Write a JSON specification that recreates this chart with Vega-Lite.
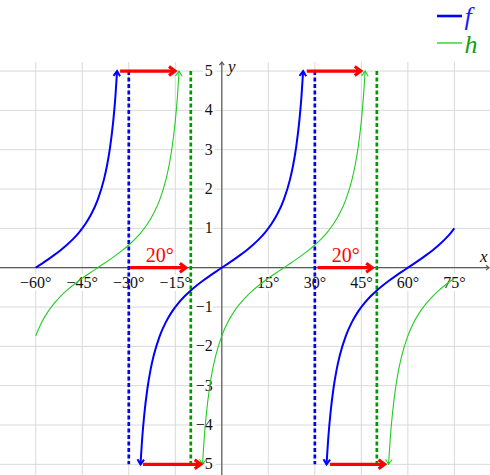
{
  "$schema": "https://vega.github.io/schema/vega-lite/v6.json",
  "width": 490,
  "height": 475,
  "padding": 0,
  "autosize": {"type": "none"},
  "background": "white",
  "config": {"view": {"stroke": null}, "font": "Liberation Serif"},
  "datasets": {
    "vgrid": [{"x": -60}, {"x": -45}, {"x": -30}, {"x": -15}, {"x": 0}, {"x": 15}, {"x": 30}, {"x": 45}, {"x": 60}, {"x": 75}],
    "hgrid": [{"y": -5}, {"y": -4}, {"y": -3}, {"y": -2}, {"y": -1}, {"y": 0}, {"y": 1}, {"y": 2}, {"y": 3}, {"y": 4}, {"y": 5}],
    "axes": [
      {"x": -71.53, "x2": 86.17, "y": 0, "y2": 0},
      {"x": 0, "x2": 0, "y": -5.271, "y2": 5.23}
    ],
    "axisheads": [
      {"x": 86.17, "y": 0, "dir": "right"},
      {"x": 0, "y": 5.23, "dir": "up"}
    ],
    "xticks": [
      {"x": -60, "t": "−60°"}, {"x": -45, "t": "−45°"}, {"x": -30, "t": "−30°"}, {"x": -15, "t": "−15°"},
      {"x": 15, "t": "15°"}, {"x": 30, "t": "30°"}, {"x": 45, "t": "45°"}, {"x": 60, "t": "60°"}, {"x": 75, "t": "75°"}
    ],
    "yticks": [
      {"y": -5, "t": "−5"}, {"y": -4, "t": "−4"}, {"y": -3, "t": "−3"}, {"y": -2, "t": "−2"}, {"y": -1, "t": "−1"},
      {"y": 1, "t": "1"}, {"y": 2, "t": "2"}, {"y": 3, "t": "3"}, {"y": 4, "t": "4"}, {"y": 5, "t": "5"}
    ],
    "axislabels": [
      {"x": 83.3, "y": 0.15, "t": "x"},
      {"x": 2.0, "y": 4.976, "t": "y"}
    ],
    "asym": [
      {"s": "f", "x": -30}, {"s": "f", "x": 30},
      {"s": "h", "x": -10}, {"s": "h", "x": 50}
    ],
    "curves": [
      {"s": "f", "b": 1, "x": -60, "y": 0}, {"s": "f", "b": 1, "x": -58, "y": 0.1051}, {"s": "f", "b": 1, "x": -56, "y": 0.2126},
      {"s": "f", "b": 1, "x": -54, "y": 0.3249}, {"s": "f", "b": 1, "x": -52, "y": 0.4452}, {"s": "f", "b": 1, "x": -50, "y": 0.5774},
      {"s": "f", "b": 1, "x": -48, "y": 0.7265}, {"s": "f", "b": 1, "x": -46, "y": 0.9004}, {"s": "f", "b": 1, "x": -44, "y": 1.1106},
      {"s": "f", "b": 1, "x": -42, "y": 1.3764}, {"s": "f", "b": 1, "x": -40, "y": 1.7321}, {"s": "f", "b": 1, "x": -38, "y": 2.246},
      {"s": "f", "b": 1, "x": -37, "y": 2.6051}, {"s": "f", "b": 1, "x": -36, "y": 3.0777}, {"s": "f", "b": 1, "x": -35, "y": 3.7321},
      {"s": "f", "b": 1, "x": -34.333, "y": 4.3315}, {"s": "f", "b": 1, "x": -33.77, "y": 5},

      {"s": "f", "b": 2, "x": -26.23, "y": -5}, {"s": "f", "b": 2, "x": -25.667, "y": -4.3315}, {"s": "f", "b": 2, "x": -25, "y": -3.7321},
      {"s": "f", "b": 2, "x": -24, "y": -3.0777}, {"s": "f", "b": 2, "x": -23, "y": -2.6051}, {"s": "f", "b": 2, "x": -22, "y": -2.246},
      {"s": "f", "b": 2, "x": -20, "y": -1.7321}, {"s": "f", "b": 2, "x": -18, "y": -1.3764}, {"s": "f", "b": 2, "x": -16, "y": -1.1106},
      {"s": "f", "b": 2, "x": -14, "y": -0.9004}, {"s": "f", "b": 2, "x": -12, "y": -0.7265}, {"s": "f", "b": 2, "x": -10, "y": -0.5774},
      {"s": "f", "b": 2, "x": -8, "y": -0.4452}, {"s": "f", "b": 2, "x": -6, "y": -0.3249}, {"s": "f", "b": 2, "x": -4, "y": -0.2126},
      {"s": "f", "b": 2, "x": -2, "y": -0.1051}, {"s": "f", "b": 2, "x": 0, "y": 0}, {"s": "f", "b": 2, "x": 2, "y": 0.1051},
      {"s": "f", "b": 2, "x": 4, "y": 0.2126}, {"s": "f", "b": 2, "x": 6, "y": 0.3249}, {"s": "f", "b": 2, "x": 8, "y": 0.4452},
      {"s": "f", "b": 2, "x": 10, "y": 0.5774}, {"s": "f", "b": 2, "x": 12, "y": 0.7265}, {"s": "f", "b": 2, "x": 14, "y": 0.9004},
      {"s": "f", "b": 2, "x": 16, "y": 1.1106}, {"s": "f", "b": 2, "x": 18, "y": 1.3764}, {"s": "f", "b": 2, "x": 20, "y": 1.7321},
      {"s": "f", "b": 2, "x": 22, "y": 2.246}, {"s": "f", "b": 2, "x": 23, "y": 2.6051}, {"s": "f", "b": 2, "x": 24, "y": 3.0777},
      {"s": "f", "b": 2, "x": 25, "y": 3.7321}, {"s": "f", "b": 2, "x": 25.667, "y": 4.3315}, {"s": "f", "b": 2, "x": 26.23, "y": 5},

      {"s": "f", "b": 3, "x": 33.77, "y": -5}, {"s": "f", "b": 3, "x": 34.333, "y": -4.3315}, {"s": "f", "b": 3, "x": 35, "y": -3.7321},
      {"s": "f", "b": 3, "x": 36, "y": -3.0777}, {"s": "f", "b": 3, "x": 37, "y": -2.6051}, {"s": "f", "b": 3, "x": 38, "y": -2.246},
      {"s": "f", "b": 3, "x": 40, "y": -1.7321}, {"s": "f", "b": 3, "x": 42, "y": -1.3764}, {"s": "f", "b": 3, "x": 44, "y": -1.1106},
      {"s": "f", "b": 3, "x": 46, "y": -0.9004}, {"s": "f", "b": 3, "x": 48, "y": -0.7265}, {"s": "f", "b": 3, "x": 50, "y": -0.5774},
      {"s": "f", "b": 3, "x": 52, "y": -0.4452}, {"s": "f", "b": 3, "x": 54, "y": -0.3249}, {"s": "f", "b": 3, "x": 56, "y": -0.2126},
      {"s": "f", "b": 3, "x": 58, "y": -0.1051}, {"s": "f", "b": 3, "x": 60, "y": 0}, {"s": "f", "b": 3, "x": 62, "y": 0.1051},
      {"s": "f", "b": 3, "x": 64, "y": 0.2126}, {"s": "f", "b": 3, "x": 66, "y": 0.3249}, {"s": "f", "b": 3, "x": 68, "y": 0.4452},
      {"s": "f", "b": 3, "x": 70, "y": 0.5774}, {"s": "f", "b": 3, "x": 72, "y": 0.7265}, {"s": "f", "b": 3, "x": 74, "y": 0.9004},
      {"s": "f", "b": 3, "x": 75, "y": 1},

      {"s": "h", "b": 1, "x": -60, "y": -1.7321}, {"s": "h", "b": 1, "x": -58, "y": -1.3764}, {"s": "h", "b": 1, "x": -56, "y": -1.1106},
      {"s": "h", "b": 1, "x": -54, "y": -0.9004}, {"s": "h", "b": 1, "x": -52, "y": -0.7265}, {"s": "h", "b": 1, "x": -50, "y": -0.5774},
      {"s": "h", "b": 1, "x": -48, "y": -0.4452}, {"s": "h", "b": 1, "x": -46, "y": -0.3249}, {"s": "h", "b": 1, "x": -44, "y": -0.2126},
      {"s": "h", "b": 1, "x": -42, "y": -0.1051}, {"s": "h", "b": 1, "x": -40, "y": 0}, {"s": "h", "b": 1, "x": -38, "y": 0.1051},
      {"s": "h", "b": 1, "x": -36, "y": 0.2126}, {"s": "h", "b": 1, "x": -34, "y": 0.3249}, {"s": "h", "b": 1, "x": -32, "y": 0.4452},
      {"s": "h", "b": 1, "x": -30, "y": 0.5774}, {"s": "h", "b": 1, "x": -28, "y": 0.7265}, {"s": "h", "b": 1, "x": -26, "y": 0.9004},
      {"s": "h", "b": 1, "x": -24, "y": 1.1106}, {"s": "h", "b": 1, "x": -22, "y": 1.3764}, {"s": "h", "b": 1, "x": -20, "y": 1.7321},
      {"s": "h", "b": 1, "x": -18, "y": 2.246}, {"s": "h", "b": 1, "x": -17, "y": 2.6051}, {"s": "h", "b": 1, "x": -16, "y": 3.0777},
      {"s": "h", "b": 1, "x": -15, "y": 3.7321}, {"s": "h", "b": 1, "x": -14.333, "y": 4.3315}, {"s": "h", "b": 1, "x": -13.77, "y": 5},

      {"s": "h", "b": 2, "x": -6.23, "y": -5}, {"s": "h", "b": 2, "x": -5.667, "y": -4.3315}, {"s": "h", "b": 2, "x": -5, "y": -3.7321},
      {"s": "h", "b": 2, "x": -4, "y": -3.0777}, {"s": "h", "b": 2, "x": -3, "y": -2.6051}, {"s": "h", "b": 2, "x": -2, "y": -2.246},
      {"s": "h", "b": 2, "x": 0, "y": -1.7321}, {"s": "h", "b": 2, "x": 2, "y": -1.3764}, {"s": "h", "b": 2, "x": 4, "y": -1.1106},
      {"s": "h", "b": 2, "x": 6, "y": -0.9004}, {"s": "h", "b": 2, "x": 8, "y": -0.7265}, {"s": "h", "b": 2, "x": 10, "y": -0.5774},
      {"s": "h", "b": 2, "x": 12, "y": -0.4452}, {"s": "h", "b": 2, "x": 14, "y": -0.3249}, {"s": "h", "b": 2, "x": 16, "y": -0.2126},
      {"s": "h", "b": 2, "x": 18, "y": -0.1051}, {"s": "h", "b": 2, "x": 20, "y": 0}, {"s": "h", "b": 2, "x": 22, "y": 0.1051},
      {"s": "h", "b": 2, "x": 24, "y": 0.2126}, {"s": "h", "b": 2, "x": 26, "y": 0.3249}, {"s": "h", "b": 2, "x": 28, "y": 0.4452},
      {"s": "h", "b": 2, "x": 30, "y": 0.5774}, {"s": "h", "b": 2, "x": 32, "y": 0.7265}, {"s": "h", "b": 2, "x": 34, "y": 0.9004},
      {"s": "h", "b": 2, "x": 36, "y": 1.1106}, {"s": "h", "b": 2, "x": 38, "y": 1.3764}, {"s": "h", "b": 2, "x": 40, "y": 1.7321},
      {"s": "h", "b": 2, "x": 42, "y": 2.246}, {"s": "h", "b": 2, "x": 43, "y": 2.6051}, {"s": "h", "b": 2, "x": 44, "y": 3.0777},
      {"s": "h", "b": 2, "x": 45, "y": 3.7321}, {"s": "h", "b": 2, "x": 45.667, "y": 4.3315}, {"s": "h", "b": 2, "x": 46.23, "y": 5},

      {"s": "h", "b": 3, "x": 53.77, "y": -5}, {"s": "h", "b": 3, "x": 54.333, "y": -4.3315}, {"s": "h", "b": 3, "x": 55, "y": -3.7321},
      {"s": "h", "b": 3, "x": 56, "y": -3.0777}, {"s": "h", "b": 3, "x": 57, "y": -2.6051}, {"s": "h", "b": 3, "x": 58, "y": -2.246},
      {"s": "h", "b": 3, "x": 60, "y": -1.7321}, {"s": "h", "b": 3, "x": 62, "y": -1.3764}, {"s": "h", "b": 3, "x": 64, "y": -1.1106},
      {"s": "h", "b": 3, "x": 66, "y": -0.9004}, {"s": "h", "b": 3, "x": 68, "y": -0.7265}, {"s": "h", "b": 3, "x": 70, "y": -0.5774},
      {"s": "h", "b": 3, "x": 72, "y": -0.4452}, {"s": "h", "b": 3, "x": 74, "y": -0.3249}, {"s": "h", "b": 3, "x": 75, "y": -0.2679}
    ],
    "heads": [
      {"s": "f", "x": -33.77, "y": 5, "dir": "up"}, {"s": "f", "x": -26.23, "y": -5, "dir": "down"},
      {"s": "f", "x": 26.23, "y": 5, "dir": "up"}, {"s": "f", "x": 33.77, "y": -5, "dir": "down"},
      {"s": "h", "x": -13.77, "y": 5, "dir": "up"}, {"s": "h", "x": -6.23, "y": -5, "dir": "down"},
      {"s": "h", "x": 46.23, "y": 5, "dir": "up"}, {"s": "h", "x": 53.77, "y": -5, "dir": "down"}
    ],
    "shifts": [
      {"x": -32.8, "x2": -15.1, "y": 5},
      {"x": -29.6, "x2": -11.6, "y": 0},
      {"x": -25.4, "x2": -6.8, "y": -5},
      {"x": 27.4, "x2": 44.8, "y": 5},
      {"x": 30.9, "x2": 48.5, "y": 0},
      {"x": 34.9, "x2": 52.5, "y": -5}
    ],
    "shiftlabels": [
      {"x": -20, "y": 0.145, "t": "20°"},
      {"x": 40, "y": 0.145, "t": "20°"}
    ],
    "legendlines": [
      {"s": "f", "x": 69.4, "x2": 77.46, "y": 6.40},
      {"s": "h", "x": 69.4, "x2": 77.46, "y": 5.714}
    ],
    "legendtext": [
      {"s": "f", "x": 78.3, "y": 6.17, "t": "f"},
      {"s": "h", "x": 78.3, "y": 5.459, "t": "h"}
    ]
  },
  "layer": [
    {
      "data": {"name": "vgrid"},
      "mark": {"type": "rule", "color": "#d9d9d9", "strokeWidth": 1},
      "encoding": {
        "x": {"field": "x", "type": "quantitative", "scale": {"domain": [-71.53, 86.49], "nice": false, "zero": false}, "axis": null},
        "y": {"datum": 5.23, "type": "quantitative", "scale": {"domain": [-5.271, 6.807], "nice": false, "zero": false}, "axis": null},
        "y2": {"datum": -5.271}
      }
    },
    {
      "data": {"name": "hgrid"},
      "mark": {"type": "rule", "color": "#d9d9d9", "strokeWidth": 1},
      "encoding": {
        "x": {"datum": -71.53, "type": "quantitative", "scale": {"domain": [-71.53, 86.49], "nice": false, "zero": false}, "axis": null},
        "x2": {"datum": 86.49},
        "y": {"field": "y", "type": "quantitative", "scale": {"domain": [-5.271, 6.807], "nice": false, "zero": false}, "axis": null}
      }
    },
    {
      "data": {"name": "axes"},
      "mark": {"type": "rule", "color": "#5a5a5a", "strokeWidth": 1.2},
      "encoding": {
        "x": {"field": "x", "type": "quantitative", "scale": {"domain": [-71.53, 86.49], "nice": false, "zero": false}, "axis": null},
        "x2": {"field": "x2"},
        "y": {"field": "y", "type": "quantitative", "scale": {"domain": [-5.271, 6.807], "nice": false, "zero": false}, "axis": null},
        "y2": {"field": "y2"}
      }
    },
    {
      "data": {"name": "axisheads"},
      "mark": {"type": "point", "shape": "M-0.8,1L0,0L0.8,1", "filled": false, "size": 36, "strokeWidth": 1.2, "color": "#5a5a5a", "opacity": 1},
      "encoding": {
        "x": {"field": "x", "type": "quantitative", "scale": {"domain": [-71.53, 86.49], "nice": false, "zero": false}, "axis": null},
        "y": {"field": "y", "type": "quantitative", "scale": {"domain": [-5.271, 6.807], "nice": false, "zero": false}, "axis": null},
        "angle": {"condition": {"test": "datum.dir == 'right'", "value": 90}, "value": 0}
      }
    },
    {
      "data": {"name": "xticks"},
      "mark": {"type": "text", "dy": 20, "baseline": "alphabetic", "align": "center", "fontSize": 16, "font": "Liberation Serif", "color": "white", "stroke": "white", "strokeWidth": 6, "strokeJoin": "round"},
      "encoding": {
        "x": {"field": "x", "type": "quantitative", "scale": {"domain": [-71.53, 86.49], "nice": false, "zero": false}, "axis": null},
        "y": {"datum": 0, "type": "quantitative", "scale": {"domain": [-5.271, 6.807], "nice": false, "zero": false}, "axis": null},
        "text": {"field": "t"}
      }
    },
    {
      "data": {"name": "xticks"},
      "mark": {"type": "text", "dy": 20, "baseline": "alphabetic", "align": "center", "fontSize": 16, "font": "Liberation Serif", "color": "#111"},
      "encoding": {
        "x": {"field": "x", "type": "quantitative", "scale": {"domain": [-71.53, 86.49], "nice": false, "zero": false}, "axis": null},
        "y": {"datum": 0, "type": "quantitative", "scale": {"domain": [-5.271, 6.807], "nice": false, "zero": false}, "axis": null},
        "text": {"field": "t"}
      }
    },
    {
      "data": {"name": "yticks"},
      "mark": {"type": "text", "dx": -9, "baseline": "middle", "align": "right", "fontSize": 16, "font": "Liberation Serif", "color": "white", "stroke": "white", "strokeWidth": 6, "strokeJoin": "round"},
      "encoding": {
        "x": {"datum": 0, "type": "quantitative", "scale": {"domain": [-71.53, 86.49], "nice": false, "zero": false}, "axis": null},
        "y": {"field": "y", "type": "quantitative", "scale": {"domain": [-5.271, 6.807], "nice": false, "zero": false}, "axis": null},
        "text": {"field": "t"}
      }
    },
    {
      "data": {"name": "yticks"},
      "mark": {"type": "text", "dx": -9, "baseline": "middle", "align": "right", "fontSize": 16, "font": "Liberation Serif", "color": "#111"},
      "encoding": {
        "x": {"datum": 0, "type": "quantitative", "scale": {"domain": [-71.53, 86.49], "nice": false, "zero": false}, "axis": null},
        "y": {"field": "y", "type": "quantitative", "scale": {"domain": [-5.271, 6.807], "nice": false, "zero": false}, "axis": null},
        "text": {"field": "t"}
      }
    },
    {
      "data": {"name": "axislabels"},
      "mark": {"type": "text", "baseline": "alphabetic", "align": "left", "fontSize": 17, "font": "Liberation Serif", "fontStyle": "italic", "color": "#111"},
      "encoding": {
        "x": {"field": "x", "type": "quantitative", "scale": {"domain": [-71.53, 86.49], "nice": false, "zero": false}, "axis": null},
        "y": {"field": "y", "type": "quantitative", "scale": {"domain": [-5.271, 6.807], "nice": false, "zero": false}, "axis": null},
        "text": {"field": "t"}
      }
    },
    {
      "data": {"name": "asym"},
      "mark": {"type": "rule", "strokeWidth": 2.7, "strokeDash": [4, 2.5]},
      "encoding": {
        "x": {"field": "x", "type": "quantitative", "scale": {"domain": [-71.53, 86.49], "nice": false, "zero": false}, "axis": null},
        "y": {"datum": 5, "type": "quantitative", "scale": {"domain": [-5.271, 6.807], "nice": false, "zero": false}, "axis": null},
        "y2": {"datum": -5},
        "color": {"condition": {"test": "datum.s == 'f'", "value": "#0000ff"}, "value": "#009a00"}
      }
    },
    {
      "data": {"name": "curves"},
      "transform": [{"filter": "datum.s == 'h'"}],
      "mark": {"type": "line", "interpolate": "monotone", "color": "#22cc22", "strokeWidth": 1.1},
      "encoding": {
        "x": {"field": "x", "type": "quantitative", "scale": {"domain": [-71.53, 86.49], "nice": false, "zero": false}, "axis": null},
        "y": {"field": "y", "type": "quantitative", "scale": {"domain": [-5.271, 6.807], "nice": false, "zero": false}, "axis": null},
        "detail": {"field": "b", "type": "nominal"}
      }
    },
    {
      "data": {"name": "curves"},
      "transform": [{"filter": "datum.s == 'f'"}],
      "mark": {"type": "line", "interpolate": "monotone", "color": "#0000ff", "strokeWidth": 2},
      "encoding": {
        "x": {"field": "x", "type": "quantitative", "scale": {"domain": [-71.53, 86.49], "nice": false, "zero": false}, "axis": null},
        "y": {"field": "y", "type": "quantitative", "scale": {"domain": [-5.271, 6.807], "nice": false, "zero": false}, "axis": null},
        "detail": {"field": "b", "type": "nominal"}
      }
    },
    {
      "data": {"name": "heads"},
      "mark": {"type": "point", "shape": "M-0.66,1L0,0L0.66,1", "filled": false, "size": 100, "opacity": 1},
      "encoding": {
        "x": {"field": "x", "type": "quantitative", "scale": {"domain": [-71.53, 86.49], "nice": false, "zero": false}, "axis": null},
        "y": {"field": "y", "type": "quantitative", "scale": {"domain": [-5.271, 6.807], "nice": false, "zero": false}, "axis": null},
        "angle": {"condition": {"test": "datum.dir == 'up'", "value": 3.3}, "value": 183.3},
        "color": {"condition": {"test": "datum.s == 'f'", "value": "#0000ff"}, "value": "#22cc22"},
        "strokeWidth": {"condition": {"test": "datum.s == 'f'", "value": 2}, "value": 1.1}
      }
    },
    {
      "data": {"name": "shifts"},
      "mark": {"type": "rule", "color": "#ff0000", "strokeWidth": 3.2},
      "encoding": {
        "x": {"field": "x", "type": "quantitative", "scale": {"domain": [-71.53, 86.49], "nice": false, "zero": false}, "axis": null},
        "x2": {"field": "x2"},
        "y": {"field": "y", "type": "quantitative", "scale": {"domain": [-5.271, 6.807], "nice": false, "zero": false}, "axis": null}
      }
    },
    {
      "data": {"name": "shifts"},
      "mark": {"type": "point", "shape": "M-0.75,1L0,0L0.75,1", "filled": false, "size": 144, "strokeWidth": 3.2, "color": "#ff0000", "opacity": 1, "angle": 90},
      "encoding": {
        "x": {"field": "x2", "type": "quantitative", "scale": {"domain": [-71.53, 86.49], "nice": false, "zero": false}, "axis": null},
        "y": {"field": "y", "type": "quantitative", "scale": {"domain": [-5.271, 6.807], "nice": false, "zero": false}, "axis": null}
      }
    },
    {
      "data": {"name": "shiftlabels"},
      "mark": {"type": "text", "baseline": "alphabetic", "align": "center", "fontSize": 20, "font": "Liberation Serif", "color": "#ff0000"},
      "encoding": {
        "x": {"field": "x", "type": "quantitative", "scale": {"domain": [-71.53, 86.49], "nice": false, "zero": false}, "axis": null},
        "y": {"field": "y", "type": "quantitative", "scale": {"domain": [-5.271, 6.807], "nice": false, "zero": false}, "axis": null},
        "text": {"field": "t"}
      }
    },
    {
      "data": {"name": "legendlines"},
      "mark": {"type": "rule"},
      "encoding": {
        "x": {"field": "x", "type": "quantitative", "scale": {"domain": [-71.53, 86.49], "nice": false, "zero": false}, "axis": null},
        "x2": {"field": "x2"},
        "y": {"field": "y", "type": "quantitative", "scale": {"domain": [-5.271, 6.807], "nice": false, "zero": false}, "axis": null},
        "color": {"condition": {"test": "datum.s == 'f'", "value": "#0000ff"}, "value": "#22cc22"},
        "strokeWidth": {"condition": {"test": "datum.s == 'f'", "value": 2.6}, "value": 1.3}
      }
    },
    {
      "data": {"name": "legendtext"},
      "mark": {"type": "text", "baseline": "alphabetic", "align": "left", "fontSize": 26, "font": "Liberation Serif", "fontStyle": "italic"},
      "encoding": {
        "x": {"field": "x", "type": "quantitative", "scale": {"domain": [-71.53, 86.49], "nice": false, "zero": false}, "axis": null},
        "y": {"field": "y", "type": "quantitative", "scale": {"domain": [-5.271, 6.807], "nice": false, "zero": false}, "axis": null},
        "text": {"field": "t"},
        "color": {"condition": {"test": "datum.s == 'f'", "value": "#1a1aff"}, "value": "#14a014"}
      }
    }
  ]
}
